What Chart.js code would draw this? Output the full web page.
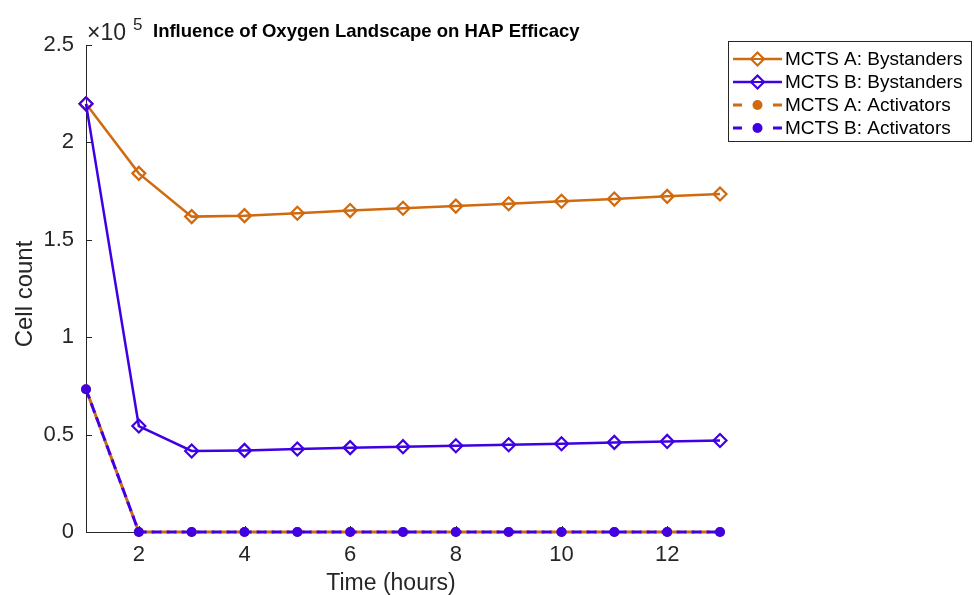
<!DOCTYPE html>
<html>
<head>
<meta charset="utf-8">
<script src="https://cdn.jsdelivr.net/npm/chart.js@4/dist/chart.umd.min.js"></script>
<style>
  html, body { margin: 0; padding: 0; background: #ffffff; }
  #wrap { width: 974px; height: 595px; position: relative; }
</style>
</head>
<body>
<div id="wrap"><canvas id="c" width="974" height="595"></canvas></div>
<script>
// Time points (hours)
const hours = [1, 2, 3, 4, 5, 6, 7, 8, 9, 10, 11, 12, 13];

// Cell counts per spheroid model
const bystandersA = [219800, 184100, 161900, 162400, 163600, 165000, 166200, 167300, 168500, 169800, 170900, 172300, 173500];
const bystandersB = [219800, 54400, 41600, 41900, 42600, 43300, 43800, 44300, 44800, 45300, 46000, 46500, 47000];
const activatorsA = [73300, 0, 0, 0, 0, 0, 0, 0, 0, 0, 0, 0, 0];
const activatorsB = [73300, 0, 0, 0, 0, 0, 0, 0, 0, 0, 0, 0, 0];

// Axis ticks
const xTicks = [2, 4, 6, 8, 10, 12];
const yTicks = [0, 50000, 100000, 150000, 200000, 250000];

const seriesNames = ['MCTS A: Bystanders', 'MCTS B: Bystanders', 'MCTS A: Activators', 'MCTS B: Activators'];

const ORANGE = '#D06A0E';
const BLUE = '#3F00E3';
const TEXT = '#262626';
const FONT = '"Liberation Sans", Arial, Helvetica, sans-serif';

function pts(ys) { return hours.map((h, i) => ({ x: h, y: ys[i] })); }

// later series are painted over earlier ones (lower order = on top)
const datasets = [
  {
    label: seriesNames[0], data: pts(bystandersA), order: 3, clip: false,
    borderColor: ORANGE, borderWidth: 2.5,
    pointStyle: 'rectRot', pointRadius: 6.5, pointBorderWidth: 2.2,
    pointBorderColor: ORANGE, pointBackgroundColor: 'rgba(0,0,0,0)'
  },
  {
    label: seriesNames[1], data: pts(bystandersB), order: 2, clip: false,
    borderColor: BLUE, borderWidth: 2.5,
    pointStyle: 'rectRot', pointRadius: 6.5, pointBorderWidth: 2.2,
    pointBorderColor: BLUE, pointBackgroundColor: 'rgba(0,0,0,0)'
  },
  {
    label: seriesNames[2], data: pts(activatorsA), order: 1, clip: false,
    borderColor: ORANGE, borderWidth: 3, borderDash: [10, 5], borderDashOffset: 7,
    pointStyle: 'circle', pointRadius: 5, pointBorderWidth: 0,
    pointBackgroundColor: ORANGE, pointBorderColor: ORANGE
  },
  {
    label: seriesNames[3], data: pts(activatorsB), order: 0, clip: false,
    borderColor: BLUE, borderWidth: 3, borderDash: [10, 5],
    pointStyle: 'circle', pointRadius: 5, pointBorderWidth: 0,
    pointBackgroundColor: BLUE, pointBorderColor: BLUE
  }
];

// Axes, inward tick marks, labels, title and legend
const decorations = {
  id: 'decorations',
  beforeDatasetsDraw(chart) {
    const ctx = chart.ctx;
    const xs = chart.scales.x, ys = chart.scales.y;
    const L = chart.chartArea.left, R = chart.chartArea.right;
    const T = chart.chartArea.top, B = chart.chartArea.bottom;
    ctx.save();
    ctx.strokeStyle = TEXT;
    ctx.lineWidth = 1;
    ctx.beginPath();
    ctx.moveTo(L + 0.5, T);
    ctx.lineTo(L + 0.5, B + 0.5);
    ctx.lineTo(R, B + 0.5);
    ctx.stroke();
    ctx.beginPath();
    yTicks.forEach(v => {
      const p = Math.round(ys.getPixelForValue(v)) + 0.5;
      ctx.moveTo(L, p); ctx.lineTo(L + 6, p);
    });
    xTicks.forEach(v => {
      const p = Math.round(xs.getPixelForValue(v)) + 0.5;
      ctx.moveTo(p, B); ctx.lineTo(p, B - 6);
    });
    ctx.stroke();
    ctx.restore();
  },
  afterDraw(chart) {
    const ctx = chart.ctx;
    const L = chart.chartArea.left, T = chart.chartArea.top;
    ctx.save();

    // exponent marker
    ctx.fillStyle = TEXT;
    ctx.textBaseline = 'alphabetic';
    ctx.textAlign = 'left';
    ctx.font = '23px ' + FONT;
    ctx.fillText('\u00D710', L + 1, T - 5);
    ctx.font = '17px ' + FONT;
    ctx.fillText('5', L + 47, T - 15);

    // title
    ctx.fillStyle = '#000000';
    ctx.font = 'bold 18.5px ' + FONT;
    ctx.fillText('Influence of Oxygen Landscape on HAP Efficacy', 153, 36.5);

    // axis titles
    ctx.fillStyle = TEXT;
    ctx.font = '23px ' + FONT;
    ctx.textAlign = 'center';
    ctx.fillText('Time (hours)', 391, 590);
    ctx.save();
    ctx.translate(32, 294);
    ctx.rotate(-Math.PI / 2);
    ctx.font = '24px ' + FONT;
    ctx.fillText('Cell count', 0, 0);
    ctx.restore();

    // legend
    const bx = 728.5, by = 41.5, bw = 243, bh = 100;
    ctx.fillStyle = '#ffffff';
    ctx.fillRect(bx, by, bw, bh);
    ctx.strokeStyle = '#262626';
    ctx.lineWidth = 1;
    ctx.strokeRect(bx, by, bw, bh);
    const rowY = [59, 82, 105, 128];
    chart.data.datasets.forEach((ds, i) => {
      const y = rowY[i];
      const x0 = 733, x1 = 782, xm = 757.5;
      ctx.strokeStyle = ds.borderColor;
      ctx.lineWidth = ds.borderDash ? 3 : 2.5;
      ctx.setLineDash(ds.borderDash ? [9, 31] : []);
      ctx.beginPath();
      ctx.moveTo(x0, y); ctx.lineTo(x1, y);
      ctx.stroke();
      ctx.setLineDash([]);
      if (ds.pointStyle === 'rectRot') {
        const r = 6.5;
        ctx.lineWidth = 2.2;
        ctx.fillStyle = '#ffffff';
        ctx.beginPath();
        ctx.moveTo(xm - r, y); ctx.lineTo(xm, y - r);
        ctx.lineTo(xm + r, y); ctx.lineTo(xm, y + r);
        ctx.closePath();
        ctx.fill();
        ctx.stroke();
        ctx.lineWidth = 2;
        ctx.beginPath();
        ctx.moveTo(xm - r, y); ctx.lineTo(xm + r, y);
        ctx.stroke();
      } else {
        ctx.fillStyle = ds.pointBackgroundColor;
        ctx.beginPath();
        ctx.arc(xm, y, 5, 0, Math.PI * 2);
        ctx.fill();
      }
      ctx.fillStyle = '#000000';
      ctx.font = '19px ' + FONT;
      ctx.textAlign = 'left';
      ctx.textBaseline = 'middle';
      ctx.fillText(ds.label, 785, y + 1);
    });
    ctx.restore();
  }
};

new Chart(document.getElementById('c'), {
  type: 'line',
  data: { datasets },
  options: {
    responsive: false,
    animation: false,
    layout: { padding: { left: 0, top: 45, right: 254, bottom: 0 } },
    plugins: { legend: { display: false }, title: { display: false }, tooltip: { enabled: false } },
    elements: { line: { tension: 0 } },
    scales: {
      x: {
        type: 'linear', min: 1, max: 13,
        afterBuildTicks: s => { s.ticks = xTicks.map(v => ({ value: v })); },
        afterFit: s => { s.height = 63; },
        grid: { display: false, drawTicks: false },
        border: { display: false },
        ticks: { color: TEXT, font: { family: FONT, size: 22 }, padding: 10, maxRotation: 0 }
      },
      y: {
        type: 'linear', min: 0, max: 250000,
        afterBuildTicks: s => { s.ticks = yTicks.map(v => ({ value: v })); },
        afterFit: s => { s.width = 86; },
        grid: { display: false, drawTicks: false },
        border: { display: false },
        ticks: { color: TEXT, font: { family: FONT, size: 22 }, padding: 12,
                 callback: v => String(v / 100000) }
      }
    }
  },
  plugins: [decorations]
});
</script>
</body>
</html>
